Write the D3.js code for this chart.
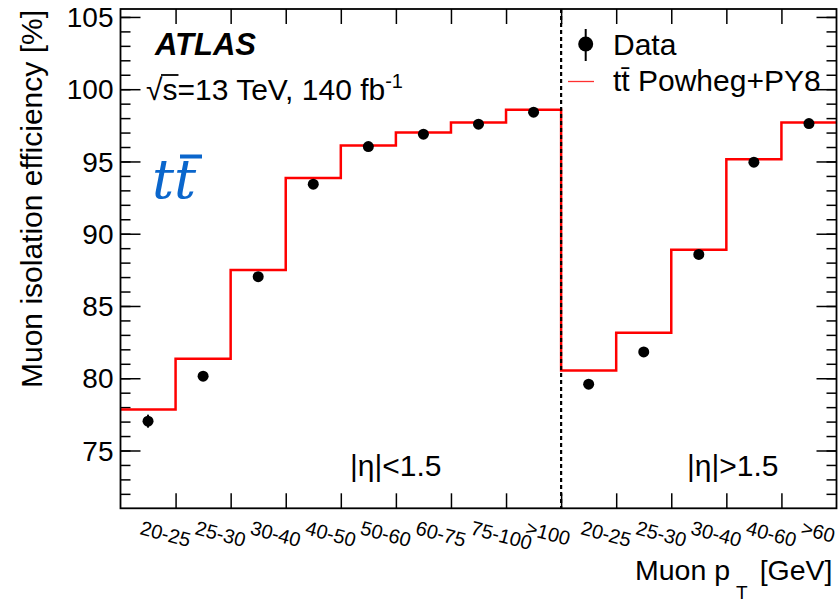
<!DOCTYPE html>
<html lang="en">
<head>
    <meta charset="UTF-8">
    <script src="https://d3js.org/d3.v7.min.js"></script>
    <title>Muon isolation efficiency</title>
    <style>
        body { margin: 0; background: #fff; }
        svg text { font-family: 'Liberation Sans', Arial, sans-serif; fill: #000; }
        .tick line { stroke: #000; stroke-width: 1.5; }
    </style>
</head>
<body>
<svg height="602" width="838"></svg>
<script>
    const width = 838, height = 602;
    const padL = 120.5, padR = 836.5, padT = 9, padB = 508.3;

    // bins of muon pT, |eta|<1.5 first then |eta|>1.5
    const binLabels = ["20-25","25-30","30-40","40-50","50-60","60-75","75-100",">100",
                       "20-25","25-30","30-40","40-60",">60"];
    const dataEff = [77.03, 80.14, 87.03, 93.43, 96.03, 96.89, 97.58, 98.41,
                     79.59, 81.82, 88.57, 94.95, 97.62];
    const dataErr = [0.45, 0.2, 0.15, 0.15, 0.1, 0.1, 0.1, 0.1, 0.2, 0.2, 0.15, 0.1, 0.1];
    const mcEff = [77.84, 81.34, 87.49, 93.85, 96.10, 97.00, 97.69, 98.57,
                   80.53, 83.14, 88.89, 95.16, 97.69];
    const yMajor = [75, 80, 85, 90, 95, 100, 105];
    const yMinor = d3.range(72, 106, 1);
    const splitBin = 8;

    const svg = d3.select("svg");
    const x = d3.scaleLinear().domain([0, binLabels.length]).range([padL, padR]);
    const y = d3.scaleLinear().domain([71, 105.55]).range([padB, padT]);

    // ticks, inward on all four sides
    const edges = d3.range(1, binLabels.length);
    svg.append("g").attr("transform", `translate(0,${padB})`)
        .call(d3.axisTop(x).tickValues(edges).tickSize(15).tickFormat(""));
    svg.append("g").attr("transform", `translate(0,${padT})`)
        .call(d3.axisBottom(x).tickValues(edges).tickSize(15).tickFormat(""));
    svg.append("g").attr("transform", `translate(${padL},0)`)
        .call(d3.axisRight(y).tickValues(yMinor).tickSize(10).tickFormat(""));
    svg.append("g").attr("transform", `translate(${padL},0)`)
        .call(d3.axisRight(y).tickValues(yMajor).tickSize(20).tickFormat(""));
    svg.append("g").attr("transform", `translate(${padR},0)`)
        .call(d3.axisLeft(y).tickValues(yMinor).tickSize(10).tickFormat(""));
    svg.append("g").attr("transform", `translate(${padR},0)`)
        .call(d3.axisLeft(y).tickValues(yMajor).tickSize(20).tickFormat(""));
    svg.selectAll(".domain").remove();

    // y tick labels
    svg.append("g").selectAll("text").data(yMajor).enter().append("text")
        .attr("x", padL - 7).attr("y", d => y(d)).attr("dy", "0.36em")
        .attr("text-anchor", "end").style("font-size", "28px")
        .text(d => d);

    // bin labels, rotated
    svg.append("g").selectAll("text").data(binLabels).enter().append("text")
        .attr("transform", (d, i) => `translate(${x(i + 0.5) - 9},534) rotate(15)`)
        .style("font-size", "20px")
        .text(d => d);

    // MC step histogram
    const stepPts = mcEff.map((v, i) => [i, v]).concat([[mcEff.length, mcEff[mcEff.length - 1]]]);
    svg.append("path").datum(stepPts)
        .attr("d", d3.line().x(d => x(d[0])).y(d => y(d[1])).curve(d3.curveStepAfter))
        .attr("fill", "none").attr("stroke", "#ff0000").attr("stroke-width", 2.5);

    // separator
    svg.append("line")
        .attr("x1", x(splitBin)).attr("x2", x(splitBin)).attr("y1", padT).attr("y2", padB)
        .attr("stroke", "#000").attr("stroke-width", 2.2).attr("stroke-dasharray", "4,3");

    // data points
    const pts = svg.append("g");
    pts.selectAll("line").data(dataEff).enter().append("line")
        .attr("x1", (d, i) => x(i + 0.5)).attr("x2", (d, i) => x(i + 0.5))
        .attr("y1", (d, i) => y(d - dataErr[i])).attr("y2", (d, i) => y(d + dataErr[i]))
        .attr("stroke", "#000").attr("stroke-width", 2);
    pts.selectAll("circle").data(dataEff).enter().append("circle")
        .attr("cx", (d, i) => x(i + 0.5)).attr("cy", d => y(d)).attr("r", 5.5)
        .attr("fill", "#000");

    // frame
    svg.append("rect").attr("x", padL).attr("y", padT)
        .attr("width", padR - padL).attr("height", padB - padT)
        .attr("fill", "none").attr("stroke", "#000").attr("stroke-width", 1.8);

    // labels
    svg.append("text").attr("x", 155).attr("y", 55)
        .style("font-size", "31px").style("font-weight", "bold").style("font-style", "italic")
        .text("ATLAS");
    const lumi = svg.append("text").attr("x", 146).attr("y", 100).style("font-size", "30px");
    const rootSym = lumi.append("tspan").text("\u221A");
    const sSym = lumi.append("tspan").text("s");
    lumi.append("tspan").text("=13 TeV, 140 fb");
    lumi.append("tspan").attr("dy", -12).style("font-size", "20px").text("-1");
    const rw = rootSym.node().getComputedTextLength(), sw = sSym.node().getComputedTextLength();
    svg.append("line").attr("x1", 146 + rw - 1.5).attr("x2", 146 + rw + sw + 1)
        .attr("y1", 75).attr("y2", 75).attr("stroke", "#000").attr("stroke-width", 1.8);

    const tt = svg.append("text").attr("x", 152).attr("y", 198)
        .style("font-family", "'DejaVu Serif', serif").style("font-style", "italic")
        .style("font-size", "55px").style("fill", "#0a66cc");
    tt.text("tt");
    svg.append("rect").attr("x", 180).attr("y", 154.5).attr("width", 22).attr("height", 4)
        .attr("fill", "#0a66cc");

    svg.append("text").attr("x", 350).attr("y", 476).style("font-size", "30px").text("|\u03B7|<1.5");
    svg.append("text").attr("x", 687).attr("y", 476).style("font-size", "30px").text("|\u03B7|>1.5");

    // legend
    svg.append("line").attr("x1", 585.7).attr("x2", 585.7).attr("y1", 29).attr("y2", 61)
        .attr("stroke", "#000").attr("stroke-width", 2);
    svg.append("circle").attr("cx", 585.7).attr("cy", 44).attr("r", 7.5).attr("fill", "#000");
    svg.append("text").attr("x", 613).attr("y", 55).style("font-size", "30px").text("Data");
    svg.append("line").attr("x1", 568).attr("x2", 594).attr("y1", 81.5).attr("y2", 81.5)
        .attr("stroke", "#ff3030").attr("stroke-width", 1.3);
    svg.append("text").attr("x", 613).attr("y", 91).style("font-size", "30px")
        .text("tt\u0304 Powheg+PY8");

    // axis titles
    const xt = svg.append("text").attr("x", 635).attr("y", 580).style("font-size", "28.5px");
    xt.append("tspan").text("Muon p");
    xt.append("tspan").attr("dx", 6).attr("dy", 19).style("font-size", "19px").text("T");
    xt.append("tspan").attr("dx", 12).attr("dy", -19).text("[GeV]");

    svg.append("text").attr("transform", "translate(42,10) rotate(-90)")
        .attr("text-anchor", "end").style("font-size", "30px")
        .text("Muon isolation efficiency [%]");
</script>
</body>
</html>
